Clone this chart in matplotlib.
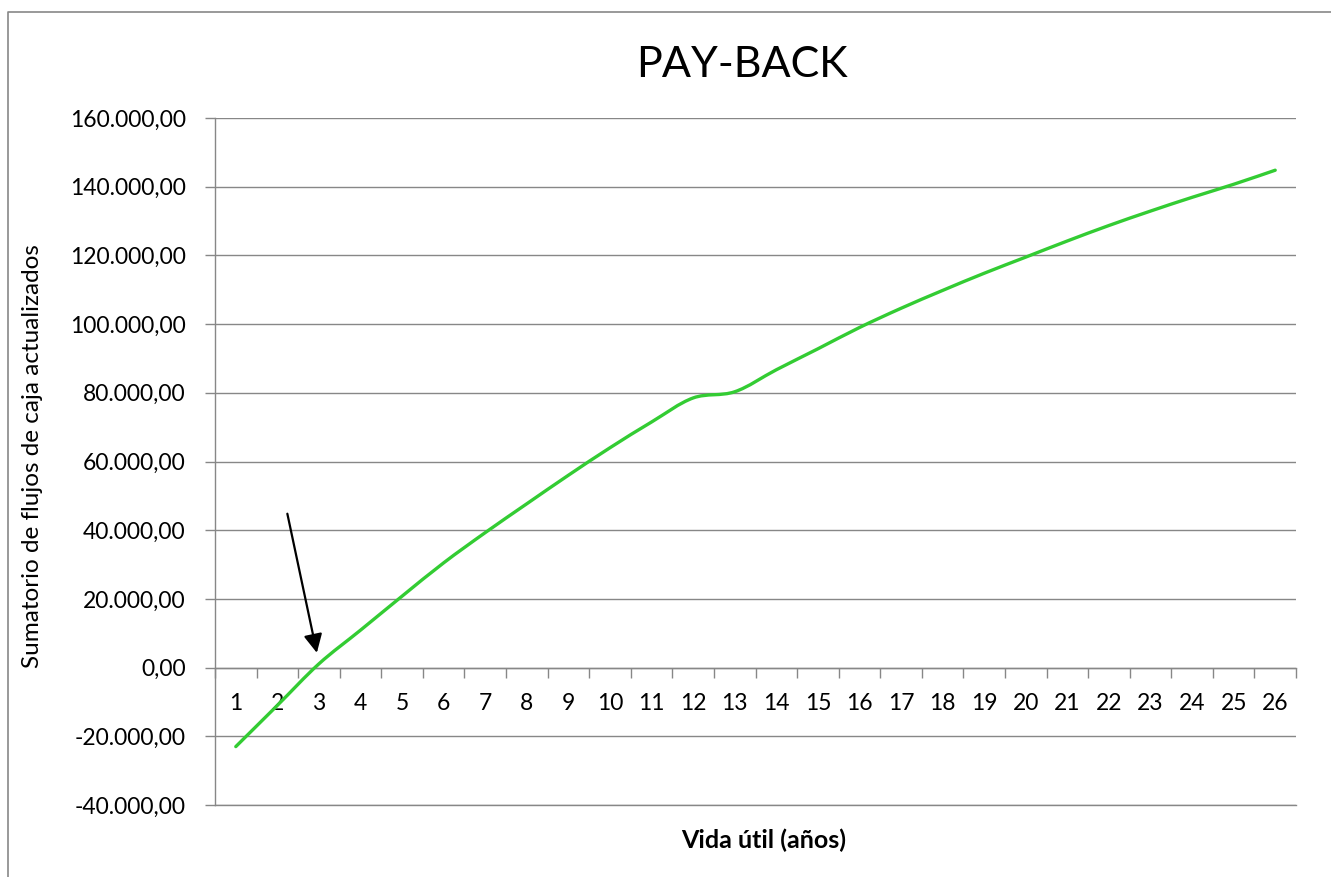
import matplotlib

matplotlib.use('Agg')
import numpy as np
import matplotlib.pyplot as plt
from matplotlib.lines import Line2D
from matplotlib.path import Path
from matplotlib.patches import PathPatch
from matplotlib.ticker import FuncFormatter

plt.rcParams['font.family'] = ['Lato', 'DejaVu Sans']

# Years of useful life and cumulative discounted cash flows
years = list(range(1, 27))
cumulative = [-23000, -11000, 1100, 10900, 20800, 30500, 39300, 47700, 56000, 64000,
              71500, 78500, 80300, 86700, 92800, 99000, 104600, 109800, 114800, 119500,
              124200, 128700, 132900, 136900, 140700, 144800]

y_ticks = list(range(-40000, 160001, 20000))

# Arrow pointing at the pay-back point (tail, head)
arrow_tail = (2.24, 44800)
arrow_head = (2.95, 4300)

grid_color = '#878787'


def es_format(v, pos):
    s = f"{v:,.2f}"
    return s.replace(',', 'X').replace('.', ',').replace('X', '.')


def smooth_path(xs, ys):
    # Excel-style smoothed line: cubic Bezier through every point
    pts = np.column_stack([xs, ys]).astype(float)
    n = len(pts)
    verts = [pts[0]]
    codes = [Path.MOVETO]
    for i in range(n - 1):
        p0 = pts[i - 1] if i > 0 else pts[i]
        p1, p2 = pts[i], pts[i + 1]
        p3 = pts[i + 2] if i + 2 < n else pts[i + 1]
        verts += [p1 + (p2 - p0) / 6, p2 - (p3 - p1) / 6, p2]
        codes += [Path.CURVE4] * 3
    return Path(verts, codes)


W, H = 1331, 877
fig = plt.figure(figsize=(W / 100, H / 100), dpi=100)

# outer chart border (cut off at right and bottom like the reference)
fig.add_artist(Line2D([8 / W, 8 / W, 1.0], [0.0, 1 - 12 / H, 1 - 12 / H],
                      transform=fig.transFigure, color=grid_color, linewidth=1.2))

left, right, top, bottom = 215, 1296, 118, 805
ax = fig.add_axes([left / W, 1 - bottom / H, (right - left) / W, (bottom - top) / H])

ax.add_patch(PathPatch(smooth_path(years, cumulative), facecolor='none',
                       edgecolor='#33cc33', linewidth=2.4, capstyle='round', zorder=3))

ax.set_xlim(0.5, 26.5)
ax.set_ylim(-40000, 160000)

# horizontal gridlines
ax.set_yticks(y_ticks)
ax.yaxis.set_major_formatter(FuncFormatter(es_format))
ax.grid(axis='y', color=grid_color, linewidth=1.0)
ax.axhline(-40000, color=grid_color, linewidth=1.0, clip_on=False)
ax.set_axisbelow(True)

for s in ['top', 'right']:
    ax.spines[s].set_visible(False)
ax.spines['left'].set_color(grid_color)
ax.spines['left'].set_linewidth(1.0)
ax.spines['bottom'].set_position(('data', 0))
ax.spines['bottom'].set_color(grid_color)
ax.spines['bottom'].set_linewidth(1.0)

ax.tick_params(axis='y', direction='out', length=7, width=1.0, color=grid_color,
               labelsize=16.5, pad=14, labelcolor='black')

# category axis: labels centered, tick marks between categories
ax.set_xticks(years)
ax.set_xticklabels([str(y) for y in years])
ax.set_xticks(np.arange(0.5, 27, 1), minor=True)
ax.tick_params(axis='x', which='major', length=0, labelsize=16.5, pad=18)
ax.tick_params(axis='x', which='minor', direction='out', length=7, width=1.0, color=grid_color)

ax.annotate('', xy=arrow_head, xytext=arrow_tail,
            arrowprops=dict(arrowstyle='-|>', color='black', linewidth=1.6,
                            mutation_scale=28, shrinkA=0, shrinkB=0))

fig.text(742 / W, 1 - 65 / H, 'PAY-BACK', fontsize=31, ha='center', va='center')
fig.text(764 / W, 1 - 840 / H, 'Vida útil (años)', fontsize=18, fontweight='bold',
         ha='center', va='center')
fig.text(33 / W, 1 - 456 / H, 'Sumatorio de flujos de caja actualizados', fontsize=17.5,
         rotation=90, ha='center', va='center')

fig.savefig('out.png', dpi=100)
